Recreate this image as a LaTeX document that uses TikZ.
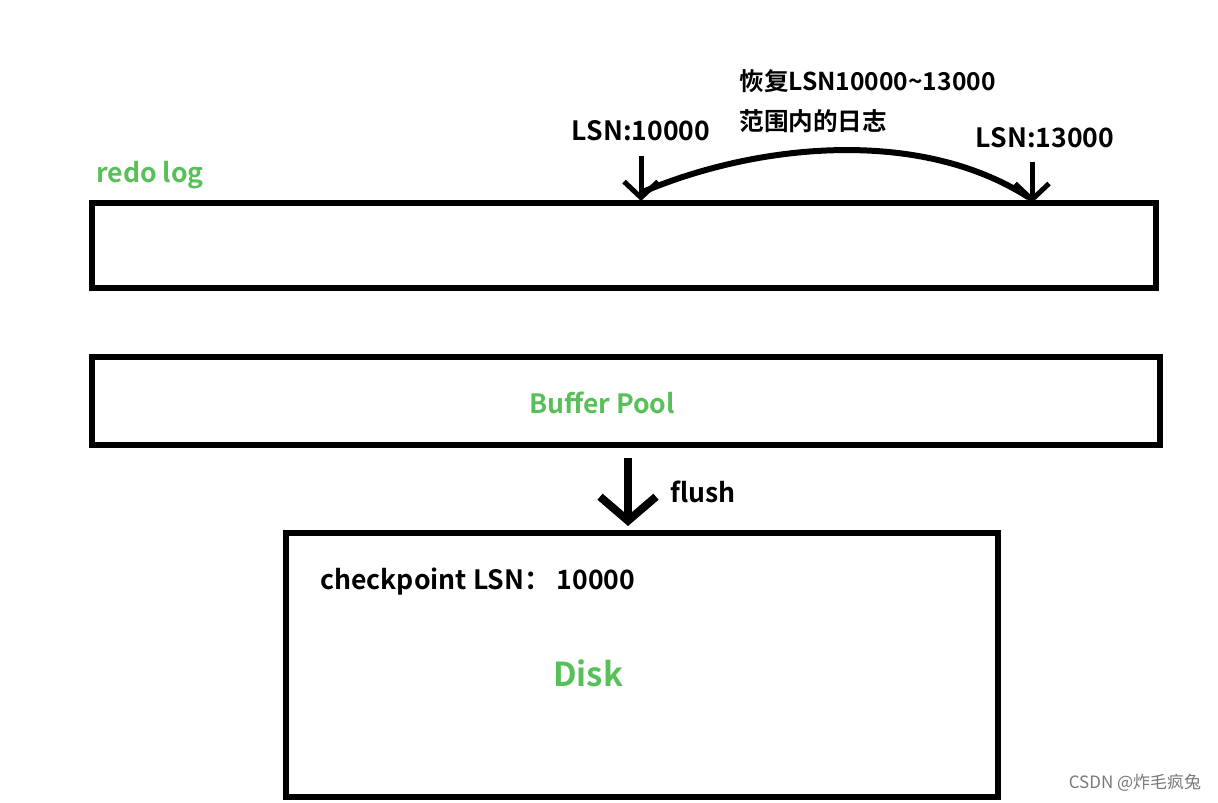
\documentclass[tikz,border=0pt]{standalone}
\usepackage{fontspec}
\setmainfont{Noto Sans CJK SC}[BoldFont={Noto Sans CJK SC Bold}]
\usetikzlibrary{arrows.meta}
\definecolor{logGreen}{RGB}{88, 192, 88}
\definecolor{markGray}{RGB}{120, 120, 120}

\begin{document}
\begin{tikzpicture}[x=0.5pt, y=-0.5pt,
    box/.style={draw, line width=3pt, inner sep=0pt},
    tag/.style={font=\bfseries\fontsize{13.3}{15}\selectfont, inner sep=1pt},
    greenTag/.style={tag, text=logGreen},
    noteTag/.style={tag, anchor=west, font=\bfseries\fontsize{12.3}{14}\selectfont},
    lsnArrow/.style={line width=2.5pt, -{Straight Barb[length=8pt, width=17pt]}},
    flushArrow/.style={line width=4pt, -{Straight Barb[length=12pt, width=28pt]}}]
    \useasboundingbox (0,0) rectangle (1218,802);
    % the three boxes
    \node[box, minimum width=532pt, minimum height=42.5pt] (redo) at (624,245.5) {};
    \node[box, minimum width=534pt, minimum height=44pt] (buffer) at (626,401) {};
    \node[box, minimum width=356pt, minimum height=132pt] (disk) at (642,665) {};
    \node[greenTag] (redoLabel) at (150,175) {redo log};
    \node[greenTag] (bufferLabel) at (602,403) {Buffer Pool};
    \node[greenTag, font=\bfseries\fontsize{16.5}{18}\selectfont] (diskLabel) at (588,673) {Disk};
    \node[tag, anchor=west] (checkpoint) at (318,582) {checkpoint LSN：\ 10000};
    % flush
    \draw[flushArrow] ([xshift=1pt, yshift=-5pt]buffer.south) -- ([xshift=-7pt, yshift=2pt]disk.north);
    \node[tag, anchor=west] (flush) at (668,492) {flush};
    % LSN marks on the redo log
    \node[tag] (lsnA) at (641,131) {LSN:10000};
    \node[tag] (lsnB) at (1045,138) {LSN:13000};
    \coordinate (markA) at (641,201);
    \coordinate (markB) at (1032,203);
    \coordinate (markBTop) at (1032,162);
    \draw[lsnArrow] ([yshift=-6pt]lsnA.south) -- (markA);
    \draw[lsnArrow] (markBTop) -- (markB);
    \draw[line width=3pt, line cap=round] ([xshift=2pt, yshift=5pt]markA) .. controls (760,143) and (920,128) .. ([xshift=-2pt, yshift=3pt]markB);
    \node[noteTag] (recoverA) at (737,81) {恢复LSN10000\textasciitilde13000};
    \node[noteTag] (recoverB) at (737,121) {范围内的日志};
    % watermark
    \node[text=markGray, font=\fontsize{8.5}{10}\selectfont] (mark) at (1135,783) {CSDN @炸毛疯兔};
\end{tikzpicture}
\end{document}
